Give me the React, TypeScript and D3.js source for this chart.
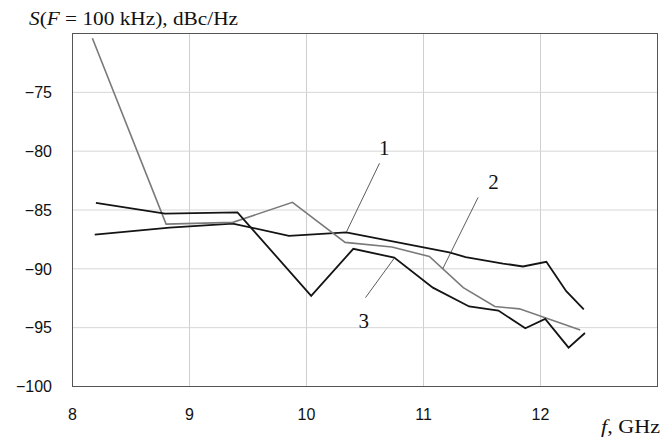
import React from "react";
import * as d3 from "d3";

// frequency, GHz / noise level, dBc/Hz
const f1 = [8.19, 8.83, 9.37, 9.85, 10.34, 11.22, 11.36, 11.68, 11.85, 12.05, 12.22, 12.37];
const s1 = [-87.1, -86.5, -86.15, -87.2, -86.9, -88.6, -89.0, -89.55, -89.8, -89.4, -91.9, -93.45];

const f2 = [8.17, 8.8, 9.37, 9.88, 10.33, 10.73, 11.05, 11.34, 11.61, 11.82, 12.34];
const s2 = [-70.4, -86.2, -86.05, -84.35, -87.75, -88.15, -88.95, -91.6, -93.2, -93.4, -95.2];

const f3 = [8.2, 8.79, 9.41, 10.04, 10.4, 10.75, 11.08, 11.39, 11.64, 11.87, 12.04, 12.24, 12.38];
const s3 = [-84.4, -85.3, -85.2, -92.3, -88.3, -89.05, -91.6, -93.2, -93.55, -95.05, -94.25, -96.7, -95.45];

const xTicks = [8, 9, 10, 11, 12];
const yTicks = [-100, -95, -90, -85, -80, -75];

// curve labels with their leader lines, in data units
const labelText = ["1", "2", "3"];
const labelPos = [[10.664, -80.35], [11.599, -83.19], [10.49, -95.03]];
const leaders = [
  [[10.624, -81.03], [10.343, -86.83]],
  [[11.467, -83.93], [11.165, -89.98]],
  [[10.504, -92.45], [10.751, -89.08]],
];

const width = 664;
const height = 441;
const left = 72.5, right = 657.5, top = 33.5, bottom = 386.5;

export default function App() {
  const x = d3.scaleLinear().domain([8, 13]).range([left, right]);
  const y = d3.scaleLinear().domain([-100, -70]).range([bottom, top]);

  const line = d3
    .line<[number, number]>()
    .x((d) => x(d[0]))
    .y((d) => y(d[1]));

  const series = [
    { f: f1, s: s1, color: "#141414", w: 1.8 },
    { f: f2, s: s2, color: "#7a7a7a", w: 1.6 },
    { f: f3, s: s3, color: "#141414", w: 1.8 },
  ];

  const sans = "'Liberation Sans', Arial, sans-serif";
  const serif = "'Liberation Serif', 'Times New Roman', serif";

  return (
    <div style={{ position: "absolute", left: 0, top: 0 }}>
      <svg width={width} height={height} style={{ display: "block", background: "#fff" }}>
        {/* grid */}
        {xTicks.slice(1).map((t) => (
          <line key={"gx" + t} x1={x(t)} x2={x(t)} y1={top} y2={bottom} stroke="#cfcfcf" strokeWidth={1} />
        ))}
        {yTicks.slice(1).map((t) => (
          <line key={"gy" + t} x1={left} x2={right} y1={y(t)} y2={y(t)} stroke="#d6d6d6" strokeWidth={1} />
        ))}
        <rect x={left} y={top} width={right - left} height={bottom - top} fill="none" stroke="#555" strokeWidth={1} />

        {/* tick labels */}
        {yTicks.map((t) => (
          <text key={"ty" + t} x={52} y={y(t)} dy="0.36em" textAnchor="end" fontFamily={sans} fontSize={16} fill="#111">
            {"\u2212" + Math.abs(t)}
          </text>
        ))}
        {xTicks.map((t) => (
          <text key={"tx" + t} x={x(t)} y={420} textAnchor="middle" fontFamily={sans} fontSize={16} fill="#111">
            {t}
          </text>
        ))}

        {/* curves */}
        {series.map((d, i) => (
          <path
            key={"s" + i}
            d={line(d.f.map((v, j) => [v, d.s[j]] as [number, number])) || ""}
            fill="none"
            stroke={d.color}
            strokeWidth={d.w}
            strokeLinejoin="miter"
          />
        ))}

        {/* leaders and numbers */}
        {leaders.map((l, i) => (
          <line key={"l" + i} x1={x(l[0][0])} y1={y(l[0][1])} x2={x(l[1][0])} y2={y(l[1][1])} stroke="#333" strokeWidth={0.8} />
        ))}
        {labelPos.map((p, i) => (
          <text key={"n" + i} x={x(p[0])} y={y(p[1])} textAnchor="middle" fontFamily={serif} fontSize={21} fill="#111">
            {labelText[i]}
          </text>
        ))}

        {/* axis titles */}
        <text x={29} y={25} fontFamily={serif} fontSize={19} fill="#111" textLength={209} lengthAdjust="spacingAndGlyphs">
          <tspan fontStyle="italic">S</tspan>
          <tspan>(</tspan>
          <tspan fontStyle="italic">F</tspan>
          <tspan> = 100 kHz), dBc/Hz</tspan>
        </text>
        <text x={601} y={433} fontFamily={serif} fontSize={19} fill="#111" textLength={59} lengthAdjust="spacingAndGlyphs">
          <tspan fontStyle="italic">f</tspan>
          <tspan>, GHz</tspan>
        </text>
      </svg>
    </div>
  );
}
